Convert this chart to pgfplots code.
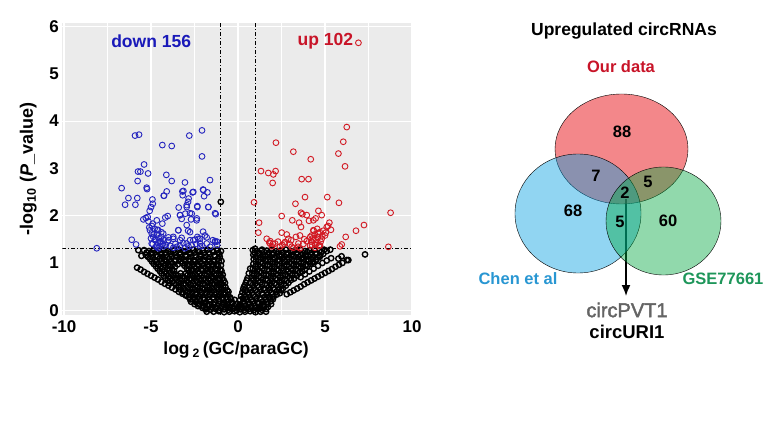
\documentclass[border=0pt]{standalone}
\usepackage{fontspec}
\setmainfont{Liberation Sans}
\newfontfamily\semib[FakeBold=2]{Liberation Sans}
\usepackage{pgfplots}
\pgfplotsset{compat=1.18}
\usetikzlibrary{arrows.meta}
\definecolor{panelgray}{RGB}{235,235,235}
\definecolor{ptblue}{RGB}{35,35,190}
\definecolor{ptred}{RGB}{210,25,35}
\definecolor{txtblue}{RGB}{25,25,185}
\definecolor{txtred}{RGB}{200,20,40}
\definecolor{vred}{RGB}{230,0,6}
\definecolor{vblue}{RGB}{0,158,225}
\definecolor{vgreen}{RGB}{0,167,63}
\definecolor{chenblue}{RGB}{40,150,210}
\definecolor{gsegreen}{RGB}{30,150,90}
\definecolor{pvtgray}{RGB}{100,100,100}
\newcommand{\fs}[1]{\fontsize{#1}{#1}\selectfont}
\pgfplotsset{
  volcano/.style={
    at={(62.3pt,118pt)}, anchor=south west,
    scale only axis, width=349.7pt, height=291.6pt},
  venn/.style={
    at={(440pt,0pt)}, anchor=south west,
    scale only axis, width=330pt, height=433pt,
    xmin=440, xmax=770, ymin=0, ymax=433, y dir=reverse,
    hide axis, clip=false},
}
\begin{document}
\begin{tikzpicture}
\path[use as bounding box] (0,0) rectangle (770pt,433pt);
% ---------------- volcano plot ----------------
\begin{axis}[
    volcano,
    xmin=-10.1, xmax=10, ymin=-0.1, ymax=6.06,
    axis background/.style={fill=panelgray},
    axis line style={draw=none},
    major tick length=0pt, minor tick length=0pt,
    xtick={-10,-5,0,5,10}, xticklabels={-10,-5,0,5,10},
    minor xtick={-7.5,-2.5,2.5,7.5},
    ytick={0,1,2,3,4,5,6}, yticklabels={0,1,2,3,4,5,6},
    minor ytick={0,2,4,6},
    xmajorgrids, xminorgrids, yminorgrids,
    major grid style={white, line width=1.1pt},
    minor grid style={white, line width=0.8pt},
    ticklabel style={font=\fs{17}\bfseries},
    xticklabel style={yshift=-2pt},
]
% not significant
\addplot[only marks, mark=o, mark size=2.7pt, black, mark options={line width=1.4pt}] coordinates {
(-5.40,1.27)(-5.12,1.25)(-4.85,1.28)(-4.55,1.26)(-4.28,1.28)(-4.00,1.25)(-3.70,1.27)(-3.42,1.28)(-3.15,1.25)(-2.85,1.27)(-2.58,1.28)(-2.30,1.25)(-2.02,1.27)(-1.75,1.28)(-1.48,1.26)(-1.20,1.28)(-0.98,1.25)
(-5.30,1.17)(-5.02,1.19)(-4.72,1.16)(-4.45,1.18)(-4.15,1.17)(-3.88,1.19)(-3.60,1.16)(-3.30,1.18)(-3.02,1.17)(-2.75,1.19)(-2.45,1.16)(-2.18,1.18)(-1.90,1.17)(-1.62,1.19)(-1.35,1.16)(-1.08,1.18)
(-5.05,1.08)(-4.78,1.06)(-4.50,1.09)(-4.22,1.07)(-3.95,1.08)(-3.65,1.06)(-3.38,1.09)(-3.10,1.07)(-2.82,1.08)(-2.55,1.06)(-2.25,1.09)(-1.98,1.07)(-1.70,1.08)(-1.42,1.06)(-1.15,1.09)(-0.95,1.04)
(-4.85,0.98)(-4.58,0.97)(-4.30,0.99)(-4.02,0.96)(-3.74,0.98)(-3.46,0.97)(-3.18,0.99)(-2.90,0.96)(-2.62,0.98)(-2.34,0.97)(-2.06,0.99)(-1.78,0.96)(-1.50,0.98)(-1.22,0.97)(-0.98,0.95)
(-4.62,0.88)(-4.35,0.87)(-4.05,0.89)(-3.78,0.86)(-2.95,0.89)(-2.68,0.86)(-2.40,0.88)(-2.12,0.87)(-1.85,0.89)(-1.58,0.86)(-1.30,0.88)(-1.02,0.86)
(-4.40,0.78)(-4.12,0.77)(-3.85,0.79)(-3.58,0.76)(-3.30,0.78)(-3.02,0.77)(-2.75,0.79)(-2.48,0.76)(-2.20,0.78)(-1.92,0.77)(-1.65,0.79)(-1.38,0.76)(-1.10,0.78)(-0.88,0.75)
(-4.18,0.68)(-3.90,0.67)(-3.62,0.69)(-3.35,0.66)(-3.08,0.68)(-2.80,0.67)(-2.52,0.69)(-2.25,0.66)(-1.98,0.68)(-1.70,0.67)(-1.42,0.69)(-1.15,0.66)(-0.90,0.68)
(-3.95,0.58)(-3.68,0.57)(-3.40,0.59)(-3.12,0.56)(-2.85,0.58)(-2.58,0.57)(-2.30,0.59)(-2.02,0.56)(-1.75,0.58)(-1.48,0.57)(-1.20,0.59)(-0.95,0.56)(-0.75,0.58)
(-3.42,0.48)(-3.15,0.47)(-2.88,0.49)(-2.60,0.46)(-2.32,0.48)(-2.05,0.47)(-1.78,0.49)(-1.50,0.46)(-1.22,0.48)(-0.98,0.47)(-0.72,0.49)
(-3.18,0.38)(-2.90,0.37)(-2.62,0.39)(-2.35,0.36)(-2.08,0.38)(-1.80,0.37)(-1.52,0.39)(-1.25,0.36)(-0.98,0.38)(-0.72,0.37)(-0.55,0.39)
(-2.82,0.28)(-2.55,0.27)(-2.28,0.29)(-2.00,0.26)(-1.72,0.28)(-1.45,0.27)(-1.18,0.29)(-0.92,0.26)(-0.68,0.28)(-0.45,0.27)
(-2.70,0.18)(-2.42,0.17)(-2.15,0.19)(-1.88,0.16)(-1.60,0.18)(-1.32,0.17)(-1.05,0.19)(-0.80,0.16)(-0.55,0.18)(-0.35,0.17)
(-2.30,0.09)(-2.02,0.08)(-1.75,0.10)(-1.48,0.07)(-1.20,0.09)(-0.95,0.08)(-0.70,0.10)(-0.45,0.07)(-0.22,0.09)
(-1.85,0.02)(-1.58,0.01)(-1.30,0.03)(-1.05,0.00)(-0.80,0.02)(-0.55,0.01)(-0.30,0.03)(-0.08,0.00)(0.15,0.02)(0.38,0.01)(0.62,0.03)(0.88,0.00)(1.12,0.02)(1.38,0.01)(1.62,0.03)
(-1.40,-0.03)(-1.10,-0.02)(-0.80,-0.04)(-0.50,-0.03)(-0.20,-0.02)(0.10,-0.04)(0.40,-0.03)(0.70,-0.02)(1.00,-0.04)(1.30,-0.03)
(-5.25,1.22)(-4.98,1.22)(-4.70,1.23)(-4.42,1.21)(-4.15,1.22)(-3.88,1.23)(-3.60,1.21)(-3.32,1.22)(-3.05,1.23)(-2.78,1.21)(-2.50,1.22)(-2.22,1.23)(-1.95,1.21)(-1.68,1.22)(-1.40,1.23)(-1.12,1.21)
(-5.18,1.13)(-4.90,1.12)(-4.62,1.14)(-4.35,1.13)(-4.08,1.12)(-3.80,1.14)(-3.52,1.13)(-3.25,1.12)(-2.98,1.14)(-2.70,1.13)(-2.42,1.12)(-2.15,1.14)(-1.88,1.13)(-1.60,1.12)(-1.32,1.14)(-1.05,1.13)
(-4.95,1.03)(-4.68,1.02)(-4.40,1.04)(-4.12,1.03)(-3.85,1.02)(-3.58,1.04)(-3.30,1.03)(-3.02,1.02)(-2.75,1.04)(-2.48,1.03)(-2.20,1.02)(-1.92,1.04)(-1.65,1.03)(-1.38,1.02)(-1.10,1.04)
(-4.72,0.93)(-4.45,0.92)(-4.18,0.94)(-3.90,0.93)(-3.62,0.92)(-3.08,0.94)(-2.80,0.93)(-2.52,0.92)(-2.25,0.94)(-1.98,0.93)(-1.70,0.92)(-1.42,0.94)(-1.15,0.93)
(-4.50,0.83)(-4.22,0.82)(-3.95,0.84)(-3.68,0.83)(-2.85,0.84)(-2.58,0.83)(-2.30,0.82)(-2.02,0.84)(-1.75,0.83)(-1.48,0.82)(-1.20,0.84)(-0.95,0.83)
(-4.28,0.73)(-4.00,0.72)(-3.72,0.74)(-3.45,0.73)(-3.18,0.72)(-2.90,0.74)(-2.62,0.73)(-2.35,0.72)(-2.08,0.74)(-1.80,0.73)(-1.52,0.72)(-1.25,0.74)(-1.00,0.73)
(-4.05,0.63)(-3.78,0.62)(-3.50,0.64)(-3.22,0.63)(-2.95,0.62)(-2.68,0.64)(-2.40,0.63)(-2.12,0.62)(-1.85,0.64)(-1.58,0.63)(-1.30,0.62)(-1.05,0.64)(-0.82,0.63)
(-3.55,0.53)(-3.28,0.52)(-3.00,0.54)(-2.72,0.53)(-2.45,0.52)(-2.18,0.54)(-1.90,0.53)(-1.62,0.52)(-1.35,0.54)(-1.08,0.53)(-0.85,0.52)
(-3.30,0.43)(-3.02,0.42)(-2.75,0.44)(-2.48,0.43)(-2.20,0.42)(-1.92,0.44)(-1.65,0.43)(-1.38,0.42)(-1.10,0.44)(-0.85,0.43)(-0.62,0.42)
(-3.00,0.33)(-2.72,0.32)(-2.45,0.34)(-2.18,0.33)(-1.90,0.32)(-1.62,0.34)(-1.35,0.33)(-1.08,0.32)(-0.82,0.34)(-0.58,0.33)
(-2.75,0.23)(-2.48,0.22)(-2.20,0.24)(-1.92,0.23)(-1.65,0.22)(-1.38,0.24)(-1.10,0.23)(-0.85,0.22)(-0.60,0.24)(-0.40,0.23)(-0.20,0.22)
(-2.50,0.13)(-2.22,0.12)(-1.95,0.14)(-1.68,0.13)(-1.40,0.12)(-1.12,0.14)(-0.85,0.13)(-0.60,0.12)(-0.35,0.14)(-0.12,0.13)(0.10,0.12)
(-2.05,0.05)(-1.80,0.04)(-1.52,0.06)(-1.25,0.05)(-0.98,0.04)(-0.72,0.06)(-0.48,0.05)(-0.25,0.04)(0.00,0.06)(0.25,0.05)(0.50,0.04)(0.75,0.06)(1.00,0.05)(1.25,0.04)(1.50,0.06)
(0.85,1.27)(1.10,1.25)(1.38,1.28)(1.65,1.26)(1.92,1.28)(2.20,1.25)(2.48,1.27)(2.75,1.28)(3.02,1.25)(3.30,1.27)(3.58,1.28)(3.85,1.25)(4.12,1.27)(4.40,1.28)(4.68,1.26)(4.95,1.28)
(0.88,1.17)(1.15,1.19)(1.42,1.16)(1.70,1.18)(1.98,1.17)(2.25,1.19)(2.52,1.16)(2.80,1.18)(3.08,1.17)(3.35,1.19)(3.62,1.16)(3.90,1.18)(4.18,1.17)(4.45,1.19)(4.72,1.16)
(0.90,1.08)(1.18,1.06)(1.45,1.09)(1.72,1.07)(2.00,1.08)(2.28,1.06)(2.55,1.09)(2.82,1.07)(3.10,1.08)(3.38,1.06)(3.65,1.09)(3.92,1.07)(4.20,1.08)(4.48,1.06)
(0.88,0.98)(1.15,0.97)(1.42,0.99)(1.70,0.96)(1.98,0.98)(2.25,0.97)(2.52,0.99)(2.80,0.96)(3.08,0.98)(3.35,0.97)(3.62,0.99)(3.90,0.96)(4.15,0.98)
(0.85,0.88)(1.12,0.87)(1.40,0.89)(1.68,0.86)(1.95,0.88)(2.22,0.87)(2.50,0.89)(2.78,0.86)(3.05,0.88)(3.32,0.87)(3.60,0.89)(3.85,0.86)
(0.82,0.78)(1.08,0.77)(1.35,0.79)(1.62,0.76)(1.90,0.78)(2.18,0.77)(2.45,0.79)(2.72,0.76)(3.00,0.78)(3.28,0.77)(3.55,0.79)
(0.78,0.68)(1.05,0.67)(1.32,0.69)(1.60,0.66)(1.88,0.68)(2.15,0.67)(2.42,0.69)(2.70,0.66)(2.98,0.68)(3.22,0.67)
(0.72,0.58)(1.00,0.57)(1.28,0.59)(1.55,0.56)(1.82,0.58)(2.10,0.57)(2.38,0.59)(2.65,0.56)(2.90,0.58)
(0.65,0.48)(0.92,0.47)(1.20,0.49)(1.48,0.46)(1.75,0.48)(2.02,0.47)(2.30,0.49)(2.58,0.46)
(0.55,0.38)(0.82,0.37)(1.10,0.39)(1.38,0.36)(1.65,0.38)(1.92,0.37)(2.20,0.39)(2.40,0.36)
(0.42,0.28)(0.70,0.27)(0.98,0.29)(1.25,0.26)(1.52,0.28)(1.80,0.27)(2.05,0.29)
(0.30,0.18)(0.58,0.17)(0.85,0.19)(1.12,0.16)(1.40,0.18)(1.65,0.17)(1.88,0.19)
(0.05,0.09)(0.20,0.08)(0.45,0.10)(0.72,0.07)(1.00,0.09)(1.25,0.08)(1.50,0.10)(1.72,0.07)
(0.95,1.22)(1.22,1.21)(1.50,1.23)(1.78,1.22)(2.05,1.21)(2.32,1.23)(2.60,1.22)(2.88,1.21)(3.15,1.23)(3.42,1.22)(3.70,1.21)(3.98,1.23)(4.25,1.22)(4.52,1.21)(4.80,1.23)
(1.00,1.13)(1.28,1.12)(1.55,1.14)(1.82,1.13)(2.10,1.12)(2.38,1.14)(2.65,1.13)(2.92,1.12)(3.20,1.14)(3.48,1.13)(3.75,1.12)(4.02,1.14)(4.30,1.13)(4.58,1.12)
(1.02,1.03)(1.30,1.02)(1.58,1.04)(1.85,1.03)(2.12,1.02)(2.40,1.04)(2.68,1.03)(2.95,1.02)(3.22,1.04)(3.50,1.03)(3.78,1.02)(4.05,1.04)(4.32,1.03)
(1.00,0.93)(1.28,0.92)(1.55,0.94)(1.82,0.93)(2.10,0.92)(2.38,0.94)(2.65,0.93)(2.92,0.92)(3.20,0.94)(3.48,0.93)(3.75,0.92)(4.00,0.94)
(0.95,0.83)(1.22,0.82)(1.50,0.84)(1.78,0.83)(2.05,0.82)(2.32,0.84)(2.60,0.83)(2.88,0.82)(3.15,0.84)(3.42,0.83)(3.70,0.82)
(0.92,0.73)(1.20,0.72)(1.48,0.74)(1.75,0.73)(2.02,0.72)(2.30,0.74)(2.58,0.73)(2.85,0.72)(3.12,0.74)(3.38,0.73)
(0.88,0.63)(1.15,0.62)(1.42,0.64)(1.70,0.63)(1.98,0.62)(2.25,0.64)(2.52,0.63)(2.80,0.62)(3.05,0.64)
(0.82,0.53)(1.10,0.52)(1.38,0.54)(1.65,0.53)(1.92,0.52)(2.20,0.54)(2.48,0.53)(2.75,0.52)
(0.72,0.43)(1.00,0.42)(1.28,0.44)(1.55,0.43)(1.82,0.42)(2.10,0.44)(2.35,0.43)(2.50,0.42)
(0.60,0.33)(0.88,0.32)(1.15,0.34)(1.42,0.33)(1.70,0.32)(1.98,0.34)(2.22,0.33)
(0.50,0.23)(0.78,0.22)(1.05,0.24)(1.32,0.23)(1.60,0.22)(1.85,0.24)(2.00,0.23)
(0.35,0.13)(0.62,0.12)(0.90,0.14)(1.18,0.13)(1.45,0.12)(1.70,0.14)(1.90,0.13)
(0.45,0.58)(0.35,0.50)(0.55,0.68)(0.62,0.78)(0.70,0.88)(0.50,0.63)(0.40,0.53)(0.30,0.45)(0.25,0.38)(0.18,0.30)(0.12,0.22)(0.42,0.43)(0.38,0.33)(0.28,0.25)
(-5.80,0.90)(-5.60,0.86)(-5.40,0.81)(-5.20,0.77)(-5.00,0.73)(-4.80,0.69)(-4.60,0.65)(-4.40,0.60)(-4.20,0.56)(-4.00,0.52)(-3.80,0.48)(-3.60,0.44)(-3.40,0.39)(-3.20,0.35)(-3.00,0.31)(-2.80,0.27)(-2.60,0.23)(-2.40,0.19)(-2.20,0.14)(-2.00,0.10)
(2.80,0.34)(3.00,0.38)(3.20,0.42)(3.40,0.46)(3.60,0.50)(3.80,0.55)(4.00,0.59)(4.20,0.63)(4.40,0.67)(4.60,0.71)(4.80,0.75)(5.00,0.79)(5.20,0.83)(5.40,0.87)(5.60,0.92)(5.80,0.96)(6.00,1.00)(6.25,1.06)
(3.60,0.70)(3.85,0.76)(4.10,0.82)(4.35,0.88)(4.60,0.94)(4.85,1.00)(5.10,1.05)(5.35,1.10)
(4.30,1.01)(4.50,1.07)(4.70,1.13)(4.90,1.19)(5.10,1.25)(5.30,1.28)
(5.77,1.09)(5.95,1.14)(6.34,1.06)(7.30,1.18)(-0.99,2.29)(-5.73,1.27)(-5.55,1.15)(-1.80,-0.03)(1.61,-0.03)(0.98,1.30)
};
% down-regulated
\addplot[only marks, mark=o, mark size=2.9pt, ptblue, mark options={line width=0.9pt}] coordinates {
(-5.92,3.69)(-5.69,3.71)(-4.35,3.49)(-3.81,3.47)(-2.80,3.69)(-2.07,3.80)(-2.07,3.25)(-5.40,3.08)(-5.75,2.93)(-5.61,2.93)(-5.17,2.89)(-4.12,2.86)(-3.81,2.73)(-5.77,2.73)(-5.25,2.59)(-5.23,2.56)(-6.69,2.58)(-6.30,2.37)(-5.79,2.37)(-6.49,2.23)(-5.90,2.23)(-4.92,2.34)(-4.90,2.25)(-5.00,2.18)(-5.08,2.10)(-5.19,1.97)(-5.44,1.92)(-4.27,2.42)(-3.05,2.70)(-3.20,2.51)(-2.61,2.49)(-3.18,2.43)(-2.84,2.36)(-2.87,2.29)(-2.95,2.18)(-3.41,2.17)(-2.34,2.18)(-2.01,2.55)(-1.76,2.49)(-1.95,2.41)(-1.61,2.75)(-1.71,2.18)(-1.28,2.03)(-4.04,1.99)(-4.18,1.96)(-3.33,2.01)(-3.03,2.04)(-2.66,2.04)(-3.24,1.93)(-2.70,1.92)(-2.38,1.90)(-4.67,1.90)(-4.90,1.83)(-4.35,1.83)(-5.06,1.69)(-4.64,1.69)(-4.41,1.65)(-3.43,1.69)(-2.87,1.68)(-2.01,1.66)(-1.80,1.54)(-1.32,1.46)(-1.21,1.45)(-2.34,1.55)(-2.18,1.51)(-2.47,1.49)(-2.76,1.48)(-3.24,1.53)(-3.72,1.51)(-4.00,1.54)(-6.11,1.49)(-5.86,1.39)(-8.12,1.31)(-4.96,1.62)(-4.87,1.55)(-4.77,1.48)(-4.96,1.41)(-4.67,1.37)(-4.48,1.44)(-4.29,1.35)(-4.58,1.31)(-3.52,1.34)(-3.05,1.31)(-2.66,1.37)(-1.80,1.41)(-2.18,1.35)(-3.72,1.32)
(-4.10,2.51)(-4.25,2.42)(-3.14,2.52)(-2.57,2.50)(-1.99,2.54)(-1.32,2.05)(-1.70,2.18)(-2.34,2.20)(-2.95,2.22)(-3.33,2.01)(-2.76,2.05)(-2.37,1.94)(-2.95,1.80)(-3.43,1.69)(-2.76,1.65)(-2.28,1.51)(-1.90,1.58)(-1.32,1.44)(-3.72,1.55)(-4.00,1.48)(-3.33,1.48)(-2.95,1.41)(-2.57,1.48)(-2.18,1.41)
(-5.10,1.75)(-4.95,1.78)(-4.80,1.72)(-4.65,1.60)(-4.55,1.52)(-4.45,1.46)(-4.35,1.40)(-4.60,1.42)(-4.75,1.50)(-4.85,1.60)(-5.00,1.52)(-4.90,1.40)(-4.70,1.34)(-4.50,1.35)(-4.40,1.55)(-4.25,1.48)(-4.15,1.38)(-5.15,1.88)(-5.30,1.95)(-4.60,1.70)(-4.30,1.62)(-4.05,1.45)(-3.90,1.36)(-3.60,1.40)(-3.35,1.36)(-3.15,1.42)(-2.85,1.35)(-2.40,1.40)(-2.05,1.36)(-1.60,1.34)(-1.45,1.48)(-1.20,1.38)
};
% up-regulated
\addplot[only marks, mark=o, mark size=2.9pt, ptred, mark options={line width=0.9pt}] coordinates {
(6.92,5.65)(6.25,3.87)(6.05,3.56)(5.77,3.31)(6.15,3.04)(2.18,3.54)(3.18,3.35)(4.18,3.19)(1.32,2.94)(1.74,2.90)(2.16,2.94)(2.03,2.87)(1.99,2.69)(3.66,2.77)(4.05,2.77)(3.85,2.39)(5.13,2.39)(5.80,2.27)(3.30,2.25)(0.92,2.28)(1.21,1.85)(1.17,1.64)(2.51,1.99)(3.62,2.06)(3.70,2.03)(4.62,2.10)(4.81,2.01)(4.46,1.94)(3.95,2.01)(4.33,1.90)(3.12,1.90)(3.51,1.85)(5.25,1.85)(5.34,1.70)(5.17,1.78)(6.78,1.68)(7.24,1.80)(8.77,2.06)(8.64,1.34)(6.19,1.55)(5.96,1.39)(5.86,1.35)(2.51,1.64)(2.80,1.60)(2.89,1.51)(3.33,1.55)(3.56,1.58)(3.81,1.50)(4.33,1.69)(4.62,1.62)(4.81,1.51)(5.00,1.58)(4.33,1.48)(4.52,1.41)(4.71,1.37)(4.14,1.37)(4.42,1.32)(1.65,1.51)(1.80,1.43)(2.13,1.41)(1.95,1.35)(2.41,1.34)(3.18,1.32)(2.70,1.44)(2.99,1.39)(3.47,1.41)(4.58,1.54)(4.23,1.58)
(4.08,1.89)(3.62,1.76)(5.10,1.76)(2.65,1.41)(3.08,1.34)(3.56,1.31)(1.84,1.41)
(4.20,1.45)(4.30,1.52)(4.40,1.60)(4.50,1.48)(4.60,1.55)(4.70,1.65)(4.75,1.45)(4.85,1.58)(4.45,1.38)(4.35,1.68)(4.55,1.72)(4.25,1.38)(4.65,1.36)(4.90,1.68)(5.05,1.64)(4.15,1.55)(3.95,1.46)(3.75,1.40)(3.45,1.34)(2.30,1.45)(2.00,1.40)(1.85,1.46)(2.55,1.38)(3.05,1.48)
};
\addplot[black, line width=0.75pt, dash pattern=on 4pt off 2pt on 1pt off 2pt] coordinates {(-1,-0.1) (-1,6.06)};
\addplot[black, line width=0.75pt, dash pattern=on 4pt off 2pt on 1pt off 2pt] coordinates {(1,-0.1) (1,6.06)};
\addplot[black, line width=0.75pt, dash pattern=on 4pt off 2pt on 1pt off 2pt] coordinates {(-10.1,1.3) (10,1.3)};
\end{axis}
% texts of the volcano plot
\begin{axis}[volcano, xmin=0, xmax=1, ymin=0, ymax=1, hide axis, clip=false]
\node[text=txtblue, font=\fs{17.5}\bfseries] at (axis cs:0.254,0.938) {down 156};
\node[text=txtred, font=\fs{17.5}\bfseries] at (axis cs:0.752,0.938) {up 102};
\node[rotate=90, font=\fs{18}\bfseries] at (axis cs:-0.097,0.5) {-log\textsubscript{10} (\textit{P}\_value)};
\node[font=\fs{17.5}\bfseries] at (axis cs:0.497,-0.12) {log\,\textsubscript{2}\,(GC/paraGC)};
\end{axis}
% ---------------- Venn diagram ----------------
\begin{axis}[venn]
\addplot[only marks, mark=*, mark size=55pt, mark options={draw=none, fill=vred, fill opacity=0.47, xscale=1.209}] coordinates {(621.5,149)};
\addplot[only marks, mark=*, mark size=59.5pt, mark options={draw=none, fill=vblue, fill opacity=0.43, xscale=1.059}] coordinates {(578,213.5)};
\addplot[only marks, mark=*, mark size=54pt, mark options={draw=none, fill=vgreen, fill opacity=0.43, xscale=1.065}] coordinates {(663.5,221)};
\addplot[black, line width=1.6pt, -{Latex[length=11pt,width=9pt]}] coordinates {(626,199) (626,296)};
\end{axis}
\begin{axis}[venn]
\node[font=\fs{17.5}\bfseries] at (axis cs:624,31) {Upregulated circRNAs};
\node[text=txtred, font=\fs{16.5}\bfseries] at (axis cs:621,67) {Our data};
\node[font=\fs{16.5}\bfseries] at (axis cs:622,132) {88};
\node[font=\fs{16.5}\bfseries] at (axis cs:596,176) {7};
\node[font=\fs{16.5}\bfseries] at (axis cs:648,182) {5};
\node[font=\fs{16.5}\bfseries] at (axis cs:625,193) {2};
\node[font=\fs{16.5}\bfseries] at (axis cs:573,211) {68};
\node[font=\fs{16.5}\bfseries] at (axis cs:620,222) {5};
\node[font=\fs{16.5}\bfseries] at (axis cs:668,221) {60};
\node[text=chenblue, font=\fs{16.5}\bfseries] at (axis cs:518,279) {Chen et al};
\node[text=gsegreen, font=\fs{16.5}\bfseries] at (axis cs:723,279) {GSE77661};
\node[text=pvtgray, font=\fs{20}\semib] at (axis cs:627,310) {circPVT1};
\node[font=\fs{18.5}\bfseries] at (axis cs:627,332) {circURI1};
\end{axis}
\end{tikzpicture}
\end{document}
